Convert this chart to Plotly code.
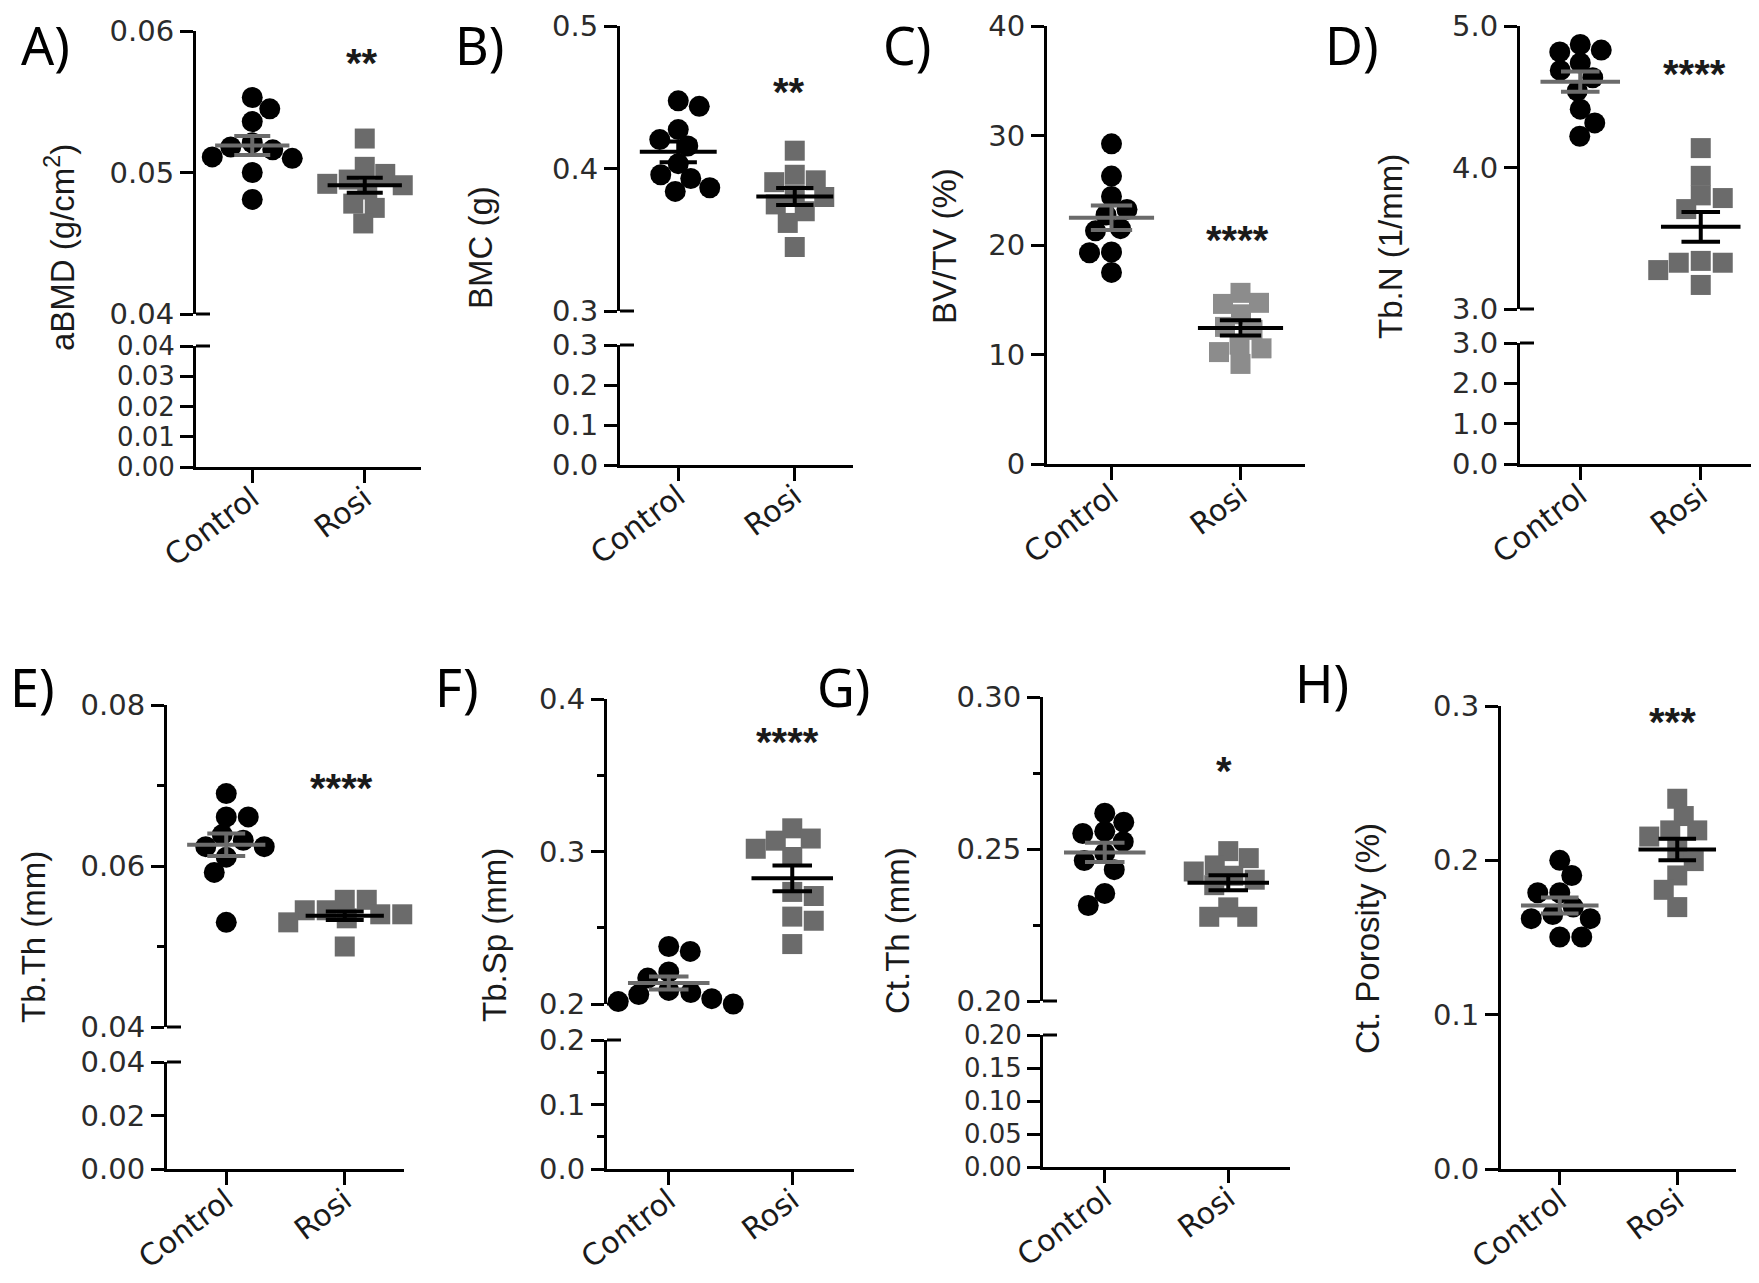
import plotly.graph_objects as go
import numpy as np

W, H = 1759, 1283

# ---------------- data ----------------
categories = ["Control", "Rosi"]
panel_letters = ["A)", "B)", "C)", "D)", "E)", "F)", "G)", "H)"]
y_titles = ["aBMD (g/cm<sup>2</sup>)", "BMC (g)", "BV/TV (%)", "Tb.N (1/mm)",
            "Tb.Th (mm)", "Tb.Sp (mm)", "Ct.Th (mm)", "Ct. Porosity (%)"]
significance = ["**", "**", "****", "****", "****", "****", "*", "***"]

abmd_control = [0.0553, 0.0545, 0.0536, 0.0521, 0.0518, 0.0516, 0.0511, 0.0510, 0.0500, 0.0481]
abmd_rosi = [0.0524, 0.0504, 0.0499, 0.0495, 0.0492, 0.0491, 0.0488, 0.0478, 0.0475, 0.0464]
bmc_control = [0.4475, 0.4436, 0.4273, 0.4203, 0.4158, 0.4034, 0.3956, 0.3930, 0.3865, 0.3839]
bmc_rosi = [0.4125, 0.3956, 0.3917, 0.3904, 0.3813, 0.3800, 0.3748, 0.3700, 0.3618, 0.3449]
bvtv_control = [29.24, 26.29, 24.43, 23.25, 22.74, 21.49, 21.29, 19.36, 19.29, 17.50]
bvtv_rosi = [15.63, 14.72, 14.62, 13.67, 12.52, 12.25, 10.90, 10.56, 10.22, 9.14]
tbn_control = [4.869, 4.830, 4.817, 4.739, 4.686, 4.634, 4.542, 4.412, 4.315, 4.221]
tbn_rosi = [4.137, 3.941, 3.803, 3.784, 3.706, 3.340, 3.327, 3.327, 3.275, 3.170]
tbth_control = [0.0690, 0.0661, 0.0661, 0.0639, 0.0632, 0.0624, 0.0624, 0.0611, 0.0592, 0.0530]
tbth_rosi = [0.0558, 0.0558, 0.0545, 0.0545, 0.0540, 0.0540, 0.0535, 0.0530, 0.0530, 0.0500]
tbsp_control = [0.2377, 0.2345, 0.2210, 0.2170, 0.2089, 0.2075, 0.2062, 0.2035, 0.2016, 0.2000]
tbsp_rosi = [0.3152, 0.3085, 0.3071, 0.3018, 0.2964, 0.2735, 0.2708, 0.2573, 0.2546, 0.2393]
ctth_control = [0.2618, 0.2588, 0.2558, 0.2551, 0.2524, 0.2486, 0.2462, 0.2432, 0.2354, 0.2314]
ctth_rosi = [0.2493, 0.2470, 0.2446, 0.2426, 0.2412, 0.2399, 0.2381, 0.2308, 0.2277, 0.2277]
ctpor_control = [0.2000, 0.1902, 0.1790, 0.1790, 0.1697, 0.1649, 0.1622, 0.1622, 0.1503, 0.1503]
ctpor_rosi = [0.2399, 0.2287, 0.2194, 0.2194, 0.2154, 0.2074, 0.1995, 0.1902, 0.1809, 0.1697]

# tick values
abmd_ticks_up = [0.04, 0.05, 0.06]
abmd_ticks_low = [0.00, 0.01, 0.02, 0.03, 0.04]
bmc_ticks_up = [0.3, 0.4, 0.5]
bmc_ticks_low = [0.0, 0.1, 0.2, 0.3]
bvtv_ticks = [0, 10, 20, 30, 40]
tbn_ticks_up = [3.0, 4.0, 5.0]
tbn_ticks_low = [0.0, 1.0, 2.0, 3.0]
tbth_ticks_up = [0.04, 0.06, 0.08]
tbth_minor_up = [0.05, 0.07]
tbth_ticks_low = [0.00, 0.02, 0.04]
tbsp_ticks_up = [0.2, 0.3, 0.4]
tbsp_minor_up = [0.25, 0.35]
tbsp_ticks_low = [0.0, 0.1, 0.2]
tbsp_minor_low = [0.05, 0.15]
ctth_ticks_up = [0.20, 0.25, 0.30]
ctth_minor_up = [0.225, 0.275]
ctth_ticks_low = [0.00, 0.05, 0.10, 0.15, 0.20]
ctpor_ticks = [0.0, 0.1, 0.2, 0.3]

# ---------------- styles ----------------
BLACK = "#000000"
GRAY = "#6b6b6b"
LIGHTGRAY = "#8c8c8c"
TICKCOL = "#2b2b2b"
TITLECOL = "#1a1a1a"
FONT = "DejaVu Sans"
TFONT = "Liberation Sans"
ANN_DX = -8  # small horizontal correction for annotation placement (px)

panels = [
    dict(ctrl=abmd_control, rosi=abmd_rosi, x0=188, x1=413, up=(23, 306), low=(338, 459),
         rup=(0.04, 0.06), rlow=(0, 0.04), tup=abmd_ticks_up, tlow=abmd_ticks_low,
         mup=[], mlow=[], fmt=".2f", cmean=GRAY, sq=GRAY, lowfont=26,
         letter=(45, 36), title=(60, 240), star=(358, 57)),
    dict(ctrl=bmc_control, rosi=bmc_rosi, x0=612, x1=845, up=(18, 303), low=(337, 457),
         rup=(0.3, 0.5), rlow=(0, 0.3), tup=bmc_ticks_up, tlow=bmc_ticks_low,
         mup=[], mlow=[], fmt=".1f", cmean=BLACK, sq=GRAY, lowfont=29,
         letter=(479, 36), title=(481, 239), star=(785, 86)),
    dict(ctrl=bvtv_control, rosi=bvtv_rosi, x0=1039, x1=1297, up=(18, 456), low=None,
         rup=(0, 40), rlow=None, tup=bvtv_ticks, tlow=None,
         mup=[], mlow=[], fmt="d", cmean=GRAY, sq=LIGHTGRAY, lowfont=29,
         letter=(907, 36), title=(944, 238), star=(1233, 234)),
    dict(ctrl=tbn_control, rosi=tbn_rosi, x0=1512, x1=1753, up=(18, 301), low=(335, 456),
         rup=(3, 5), rlow=(0, 3), tup=tbn_ticks_up, tlow=tbn_ticks_low,
         mup=[], mlow=[], fmt=".1f", cmean=GRAY, sq=GRAY, lowfont=29,
         letter=(1352, 36), title=(1391, 239), star=(1690, 68)),
    dict(ctrl=tbth_control, rosi=tbth_rosi, x0=159, x1=396, up=(697, 1019), low=(1054, 1161),
         rup=(0.04, 0.08), rlow=(0, 0.04), tup=tbth_ticks_up, tlow=tbth_ticks_low,
         mup=tbth_minor_up, mlow=[], fmt=".2f", cmean=GRAY, sq=GRAY, lowfont=29,
         letter=(32, 678), title=(33, 929), star=(337, 782)),
    dict(ctrl=tbsp_control, rosi=tbsp_rosi, x0=599, x1=846, up=(691, 996), low=(1032, 1161),
         rup=(0.2, 0.4), rlow=(0, 0.2), tup=tbsp_ticks_up, tlow=tbsp_ticks_low,
         mup=tbsp_minor_up, mlow=tbsp_minor_low, fmt=".1f", cmean=GRAY, sq=GRAY, lowfont=29,
         letter=(457, 678), title=(494, 927), star=(783, 736)),
    dict(ctrl=ctth_control, rosi=ctth_rosi, x0=1035, x1=1282, up=(689, 993), low=(1027, 1159),
         rup=(0.2, 0.3), rlow=(0, 0.2), tup=ctth_ticks_up, tlow=ctth_ticks_low,
         mup=ctth_minor_up, mlow=[], fmt=".2f", cmean=GRAY, sq=GRAY, lowfont=26,
         letter=(843, 678), title=(897, 923), star=(1220, 765)),
    dict(ctrl=ctpor_control, rosi=ctpor_rosi, x0=1493, x1=1728, up=(698, 1161), low=None,
         rup=(0, 0.3), rlow=None, tup=ctpor_ticks, tlow=None,
         mup=[], mlow=[], fmt=".1f", cmean=GRAY, sq=GRAY, lowfont=29,
         letter=(1322, 674), title=(1367, 931), star=(1668, 716)),
]


def px_x(p):
    return p / W


def px_y(p):
    return 1 - p / H


def swarm(vals, ppu_y, ppu_x, wx=22.0, hy=18.0):
    """Beeswarm in pixel space with elliptical footprints, balanced around the centre."""
    idx = sorted(range(len(vals)), key=lambda i: -vals[i])
    placed = []
    offs = [0.0] * len(vals)
    total = 0.0
    toggle = 1

    def free(c, y):
        return all(((c - a) / wx) ** 2 + ((y - b) / hy) ** 2 >= 1.0 for a, b in placed)

    for i in idx:
        y = vals[i] * ppu_y
        chosen = 0.0
        for step in range(0, 800):
            x = step * 0.5
            cands = [0.0] if step == 0 else [x, -x]
            ok = [c for c in cands if free(c, y)]
            if ok:
                if len(ok) == 2:
                    if total > 1e-9:
                        chosen = -x
                    elif total < -1e-9:
                        chosen = x
                    else:
                        chosen = x * toggle
                        toggle = -toggle
                else:
                    chosen = ok[0]
                break
        placed.append((chosen, y))
        total += chosen
        offs[i] = chosen / ppu_x
    return offs


fig = go.Figure()
layout = dict(width=W, height=H, autosize=False, margin=dict(l=0, r=0, t=0, b=0, pad=0),
              paper_bgcolor="white", plot_bgcolor="white", showlegend=False,
              font=dict(family=FONT, color=TICKCOL))
annotations = []
shapes = []
ax_n = [0]


def new_axes():
    ax_n[0] += 1
    n = ax_n[0]
    return n, ("x" if n == 1 else f"x{n}"), ("y" if n == 1 else f"y{n}"), \
        ("xaxis" if n == 1 else f"xaxis{n}"), ("yaxis" if n == 1 else f"yaxis{n}")


def xaxis_dict(yref, x0, x1, visible):
    d = dict(domain=[px_x(x0), px_x(x1)], range=[-0.5, 1.5], anchor=yref,
             showgrid=False, zeroline=False, fixedrange=True, automargin=False)
    if visible:
        d.update(showline=True, linewidth=3, linecolor=BLACK, ticks="outside", ticklen=13,
                 tickwidth=3, tickcolor=BLACK, tickmode="array", tickvals=[0, 1],
                 ticktext=categories, tickangle=-37, ticklabeloverflow="allow",
                 ticklabelstandoff=-14,
                 tickfont=dict(family=FONT, size=30, color=TITLECOL))
    else:
        d.update(showline=False, ticks="", showticklabels=False)
    return d


def yaxis_dict(xref, dom_top, dom_bot, rng, ticks, minor, fmt, fsize=29):
    d = dict(domain=[px_y(dom_bot), px_y(dom_top)], range=list(rng), anchor=xref,
             showline=True, linewidth=3, linecolor=BLACK, ticks="outside", ticklen=13,
             tickwidth=3, tickcolor=BLACK, tickmode="array", tickvals=ticks,
             tickformat=fmt, tickfont=dict(family=FONT, size=fsize, color=TICKCOL),
             ticklabeloverflow="allow",
             showgrid=False, zeroline=False, fixedrange=True, automargin=False)
    if minor:
        d["minor"] = dict(tickmode="array", tickvals=minor, ticks="outside", ticklen=7,
                          tickwidth=3, tickcolor=BLACK, showgrid=False)
    return d


for pi, P in enumerate(panels):
    x0, x1 = P["x0"], P["x1"]
    broken = P["low"] is not None
    n, xr, yr, xk, yk = new_axes()
    layout[xk] = xaxis_dict(yr, x0, x1, not broken)
    layout[yk] = yaxis_dict(xr, P["up"][0], P["up"][1], P["rup"], P["tup"], P["mup"], P["fmt"])
    pxr, pyr = xr, yr

    if broken:
        n2, xr2, yr2, xk2, yk2 = new_axes()
        layout[xk2] = xaxis_dict(yr2, x0, x1, True)
        layout[yk2] = yaxis_dict(xr2, P["low"][0], P["low"][1], P["rlow"], P["tlow"],
                                 P["mlow"], P["fmt"], fsize=P["lowfont"])
        # placeholder trace so the lower segment subplot is drawn
        fig.add_trace(go.Scatter(x=[None], y=[None], mode="markers", xaxis=xr2, yaxis=yr2,
                                 hoverinfo="skip"))
        # break marks extend to the right of the axis
        for yy in (P["up"][1], P["low"][0]):
            shapes.append(dict(type="line", xref="paper", yref="paper",
                               x0=px_x(x0), x1=px_x(x0 + 14), y0=px_y(yy), y1=px_y(yy),
                               line=dict(color=BLACK, width=3)))

    ppu_y = (P["up"][1] - P["up"][0]) / (P["rup"][1] - P["rup"][0])
    ppu_x = (x1 - x0) / 2.0

    groups = [(P["ctrl"], 0, "circle", BLACK, 21, P["cmean"]),
              (P["rosi"], 1, "square", P["sq"], 20, BLACK)]
    for vals, ci, sym, col, size, mcol in groups:
        offs = swarm(vals, ppu_y, ppu_x)
        fig.add_trace(go.Scatter(x=[ci + o for o in offs], y=vals, mode="markers",
                                 xaxis=pxr, yaxis=pyr, cliponaxis=False,
                                 marker=dict(symbol=sym, size=size, color=col,
                                             line=dict(width=0)),
                                 hoverinfo="skip"))
    for vals, ci, sym, col, size, mcol in groups:
        arr = np.array(vals, dtype=float)
        m = arr.mean()
        sem = arr.std(ddof=1) / np.sqrt(len(arr))
        hw, cw = 0.33, 0.16
        xs = [ci - hw, ci + hw, None, ci, ci, None, ci - cw, ci + cw, None, ci - cw, ci + cw]
        ys = [m, m, None, m - sem, m + sem, None, m + sem, m + sem, None, m - sem, m - sem]
        fig.add_trace(go.Scatter(x=xs, y=ys, mode="lines", xaxis=pxr, yaxis=pyr,
                                 cliponaxis=False, line=dict(color=mcol, width=4),
                                 hoverinfo="skip"))

    lx, ly = P["letter"]
    annotations.append(dict(text=panel_letters[pi], xref="paper", yref="paper",
                            x=px_x(lx + ANN_DX), y=px_y(ly), xanchor="center", yanchor="middle",
                            showarrow=False, font=dict(family="Noto Sans", size=52, color=BLACK)))
    tx, ty = P["title"]
    annotations.append(dict(text=y_titles[pi], xref="paper", yref="paper",
                            x=px_x(tx + ANN_DX), y=px_y(ty), xanchor="center", yanchor="middle",
                            textangle=-90, showarrow=False,
                            font=dict(family=TFONT, size=33, color=TITLECOL)))
    sx, sy = P["star"]
    annotations.append(dict(text="<b>" + significance[pi] + "</b>", xref="paper", yref="paper",
                            x=px_x(sx + ANN_DX / 2), y=px_y(sy - 2), xanchor="center",
                            yanchor="middle", showarrow=False,
                            font=dict(family=TFONT, size=40, color="#1a1a1a")))

layout["annotations"] = annotations
layout["shapes"] = shapes
fig.update_layout(**layout)
fig.write_html("out.html")
